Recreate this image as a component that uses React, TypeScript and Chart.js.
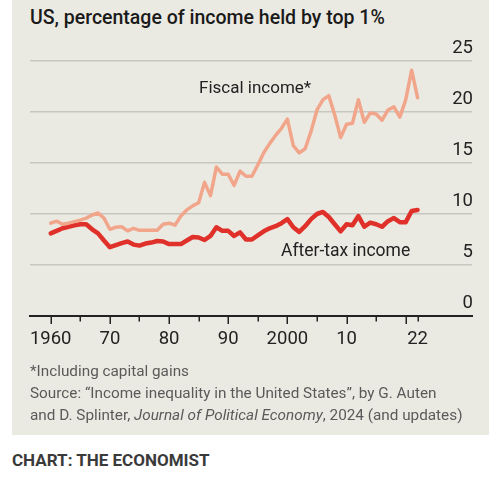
import React, { useEffect, useRef } from "react";
import { Chart, registerables } from "chart.js";

Chart.register(...registerables);

const years = [
  1960, 1961, 1962, 1963, 1964, 1965, 1966, 1967, 1968, 1969,
  1970, 1971, 1972, 1973, 1974, 1975, 1976, 1977, 1978, 1979,
  1980, 1981, 1982, 1983, 1984, 1985, 1986, 1987, 1988, 1989,
  1990, 1991, 1992, 1993, 1994, 1995, 1996, 1997, 1998, 1999,
  2000, 2001, 2002, 2003, 2004, 2005, 2006, 2007, 2008, 2009,
  2010, 2011, 2012, 2013, 2014, 2015, 2016, 2017, 2018, 2019,
  2020, 2021, 2022,
];

const fiscalIncome = [
  9.1, 9.3, 9.0, 9.1, 9.25, 9.4, 9.6, 9.9, 10.1, 9.6,
  8.5, 8.7, 8.75, 8.35, 8.6, 8.4, 8.4, 8.4, 8.4, 9.0,
  9.1, 8.9, 9.8, 10.4, 10.8, 11.1, 13.1, 11.8, 14.6, 13.9,
  13.9, 12.8, 14.2, 13.7, 13.7, 14.8, 16.0, 16.9, 17.7, 18.4,
  19.3, 16.7, 16.0, 16.4, 18.1, 20.2, 21.2, 21.6, 19.7, 17.5,
  18.8, 18.9, 21.2, 19.0, 19.9, 19.8, 19.2, 20.2, 20.5, 19.5,
  21.2, 24.1, 21.4,
];

const afterTaxIncome = [
  8.1, 8.35, 8.6, 8.75, 8.9, 9.0, 9.0, 8.5, 8.1, 7.4,
  6.75, 6.95, 7.15, 7.3, 7.0, 6.9, 7.1, 7.2, 7.35, 7.3,
  7.05, 7.05, 7.05, 7.4, 7.75, 7.7, 7.45, 7.85, 8.7, 8.35,
  8.35, 7.85, 8.2, 7.5, 7.5, 7.9, 8.3, 8.6, 8.8, 9.1,
  9.5, 8.7, 8.25, 8.8, 9.5, 10.0, 10.2, 9.7, 9.0, 8.3,
  9.0, 8.9, 9.8, 8.75, 9.15, 9.0, 8.75, 9.3, 9.6, 9.2,
  9.2, 10.3, 10.4,
];

const xTickYears = [1960, 1965, 1970, 1975, 1980, 1985, 1990, 1995, 2000, 2005, 2010, 2015, 2020, 2022];
const xTickLabels: Record<number, string> = {
  1960: "1960",
  1970: "70",
  1980: "80",
  1990: "90",
  2000: "2000",
  2010: "10",
  2022: "22",
};
const majorTickYears = [1960, 1970, 1980, 1990, 2000, 2010, 2020];

const FONT = "Roboto, 'Liberation Sans', sans-serif";
const BG = "#ebeae2";
const FISCAL = "#f1a68b";
const AFTERTAX = "#e0302a";
const INK = "#222222";

const tickMarksPlugin = {
  id: "tickMarks",
  afterDraw(chart: any) {
    const xs = chart.scales.x;
    const ctx = chart.ctx;
    ctx.save();
    ctx.strokeStyle = INK;
    ctx.lineWidth = 1.5;
    xTickYears.forEach((yr) => {
      const px = Math.round(xs.getPixelForValue(yr)) + 0.25;
      const len = majorTickYears.includes(yr) ? 8 : 5.5;
      ctx.beginPath();
      ctx.moveTo(px, xs.top);
      ctx.lineTo(px, xs.top + len);
      ctx.stroke();
    });
    ctx.restore();
  },
};

export default function App() {
  const canvasRef = useRef<HTMLCanvasElement | null>(null);

  useEffect(() => {
    if (!canvasRef.current) return;
    const chart = new Chart(canvasRef.current, {
      type: "line",
      data: {
        datasets: [
          {
            label: "Fiscal income*",
            data: years.map((yr, i) => ({ x: yr, y: fiscalIncome[i] })),
            borderColor: FISCAL,
            borderWidth: 3.5,
            pointRadius: 0,
            tension: 0,
            borderJoinStyle: "round",
            borderCapStyle: "round",
          },
          {
            label: "After-tax income",
            data: years.map((yr, i) => ({ x: yr, y: afterTaxIncome[i] })),
            borderColor: AFTERTAX,
            borderWidth: 4.5,
            pointRadius: 0,
            tension: 0,
            borderJoinStyle: "round",
            borderCapStyle: "round",
          },
        ],
      },
      options: {
        animation: false,
        responsive: false,
        maintainAspectRatio: false,
        devicePixelRatio: 1,
        layout: { padding: { left: 18, right: 17, top: 31, bottom: 14 } },
        plugins: {
          legend: { display: false },
          tooltip: { enabled: false },
        },
        scales: {
          x: {
            type: "linear",
            min: 1956.5,
            max: 2031.2,
            afterBuildTicks: (scale: any) => {
              scale.ticks = xTickYears.map((v) => ({ value: v }));
            },
            afterFit: (scale: any) => {
              scale.height = 40;
            },
            grid: { display: true, drawOnChartArea: false, drawTicks: false },
            border: { display: true, color: INK, width: 2 },
            ticks: {
              autoSkip: false,
              maxRotation: 0,
              padding: 12,
              color: INK,
              font: { family: FONT, size: 18.5 },
              callback: (value: any) => xTickLabels[value as number] ?? "",
            },
          },
          y: {
            position: "right",
            min: 0,
            max: 25,
            afterFit: (scale: any) => {
              scale.width = 0;
            },
            grid: {
              drawTicks: false,
              color: (ctx: any) => (ctx.tick && ctx.tick.value === 0 ? "rgba(0,0,0,0)" : "#c7c7bf"),
              lineWidth: 1.5,
            },
            border: { display: false },
            ticks: {
              stepSize: 5,
              mirror: true,
              padding: 1,
              labelOffset: -13,
              color: INK,
              font: { family: FONT, size: 18.5 },
            },
          },
        },
      },
      plugins: [tickMarksPlugin],
    });
    return () => chart.destroy();
  }, []);

  const text = (style: React.CSSProperties, content: React.ReactNode) => (
    <div style={{ position: "absolute", whiteSpace: "nowrap", fontFamily: FONT, ...style }}>{content}</div>
  );

  return (
    <div style={{ position: "absolute", left: 0, top: 0, width: 500, height: 494, background: "#ffffff", overflow: "hidden" }}>
      <div style={{ position: "absolute", left: 12, top: 0, width: 477, height: 435, background: BG }} />
      <canvas
        ref={canvasRef}
        width={477}
        height={340}
        style={{ position: "absolute", left: 12, top: 30, width: 477, height: 340 }}
      />
      {text({ left: 30, top: 6, fontSize: 19.5, fontWeight: 500, color: "#1a1a1a", lineHeight: "24px" }, "US, percentage of income held by top 1%")}
      {text({ left: 199, top: 76, fontSize: 17, color: INK, lineHeight: "22px" }, "Fiscal income*")}
      {text({ left: 281, top: 239, fontSize: 17.5, color: INK, lineHeight: "22px" }, "After-tax income")}
      {text({ left: 30, top: 360, fontSize: 15.3, color: "#5a5a5a", lineHeight: "22px" }, "*Including capital gains")}
      {text({ left: 30, top: 382, fontSize: 15.3, color: "#5a5a5a", lineHeight: "22px" }, "Source: \u201cIncome inequality in the United States\u201d, by G. Auten")}
      {text(
        { left: 30, top: 404, fontSize: 15.3, color: "#5a5a5a", lineHeight: "22px" },
        <>
          and D. Splinter, <i>Journal of Political Economy</i>, 2024 (and updates)
        </>
      )}
      {text({ left: 12, top: 449, fontSize: 17, fontWeight: 700, color: "#3a3a3a", lineHeight: "22px" }, "CHART: THE ECONOMIST")}
    </div>
  );
}
